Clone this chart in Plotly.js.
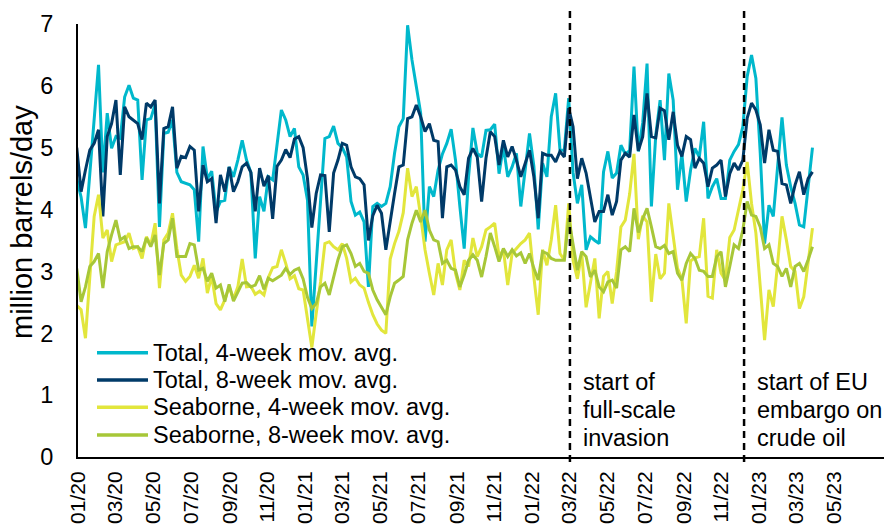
<!DOCTYPE html>
<html><head><meta charset="utf-8">
<script src="https://cdn.plot.ly/plotly-3.0.1.min.js"></script>
<style>html,body{margin:0;padding:0;background:#fff}#chart{width:884px;height:529px}</style>
</head><body><div id="chart"></div>
<script>
// Weekly observations, first week starting 2019-12-30
const firstWeek = '2019-12-30';
const weekCount = 170;

const seriesNames = ['Total, 4-week mov. avg.', 'Total, 8-week mov. avg.', 'Seaborne, 4-week mov. avg.', 'Seaborne, 8-week mov. avg.'];

// x-axis tick labels (every two months)
const tickDates = ['2020-01-01','2020-03-01','2020-05-01','2020-07-01','2020-09-01','2020-11-01',
  '2021-01-01','2021-03-01','2021-05-01','2021-07-01','2021-09-01','2021-11-01',
  '2022-01-01','2022-03-01','2022-05-01','2022-07-01','2022-09-01','2022-11-01',
  '2023-01-01','2023-03-01','2023-05-01'];
const tickLabels = ['01/20','03/20','05/20','07/20','09/20','11/20','01/21','03/21','05/21','07/21','09/21','11/21',
  '01/22','03/22','05/22','07/22','09/22','11/22','01/23','03/23','05/23'];

const total4 = [4.5,4.2,3.7,4.6,5.45,6.34,4.6,5.56,4.99,5.18,5.15,
5.82,6.01,5.8,5.77,4.48,5.45,5.47,5.7,3.72,5.23,
5.25,5.45,4.6,4.45,4.42,4.4,4.32,3.48,5.02,4.5,
4.62,3.96,4.13,4.15,4.69,4.53,4.8,5.12,4.8,4.6,
3.21,4.21,3.97,4.53,4.48,5.02,5.61,5.45,5.18,5.31,
4.69,4.56,4.15,2.11,3.18,4.15,5.15,5.18,5.35,5.07,
5.0,4.85,4.13,3.91,3.96,3.8,2.75,4.05,4.1,4.05,
4.1,4.37,4.91,5.34,5.47,6.98,6.42,5.99,5.56,3.48,
4.37,4.21,4.64,4.9,5.07,5.3,4.8,4.05,3.37,4.53,
5.32,4.91,4.85,5.28,5.29,5.38,4.58,5.02,4.53,4.69,
4.91,4.05,4.6,5.23,4.7,3.68,4.75,4.53,5.5,5.88,
4.96,4.96,5.8,4.6,4.1,4.4,3.35,3.56,3.5,3.45,
4.61,4.94,4.51,4.59,5.04,4.9,4.95,6.31,4.94,5.4,
6.36,4.05,5.2,5.77,4.8,6.2,5.77,4.32,4.9,4.13,
4.64,4.99,4.85,5.42,4.18,4.37,4.5,4.18,4.18,4.8,
4.94,5.05,5.34,6.15,6.5,6.12,4.91,3.45,4.07,3.89,
4.7,5.49,4.72,4.37,4.1,3.75,3.72,4.4,5.0];

const total8 = [5.0,4.29,4.64,4.96,5.07,5.29,3.89,5.18,5.39,5.77,4.56,
5.66,5.5,5.45,5.39,5.13,5.72,5.66,5.77,4.1,5.31,
5.34,5.66,4.67,4.86,4.84,5.02,4.96,3.97,4.72,4.45,
4.5,3.78,4.56,4.29,4.69,4.29,4.45,4.69,4.75,4.6,
3.97,4.67,4.38,4.55,3.85,4.7,4.8,4.97,4.84,5.14,
5.18,5.0,4.5,3.71,4.26,4.56,4.55,3.64,4.59,4.8,
5.07,5.04,4.69,4.53,4.5,4.4,3.5,3.9,4.07,3.94,
3.35,3.83,4.26,4.69,4.72,5.47,5.5,5.69,5.5,5.26,
5.39,5.12,5.1,3.86,4.69,4.72,4.64,4.37,4.24,4.83,
4.99,4.85,4.13,4.83,5.26,5.18,4.72,5.12,4.85,5.02,
4.8,4.53,4.75,4.96,4.53,3.86,4.91,4.88,4.88,4.77,
4.94,4.85,5.64,5.34,4.5,4.83,4.59,4.18,3.8,3.97,
3.97,4.24,3.91,4.13,4.8,4.91,4.85,5.53,4.95,5.18,
5.88,5.18,5.16,5.64,5.6,5.13,5.58,5.04,4.86,5.18,
5.13,4.67,4.83,4.75,4.37,4.67,4.72,4.8,4.21,4.58,
4.75,4.64,4.8,5.48,5.72,5.61,5.37,4.75,5.29,4.96,
4.94,4.42,4.4,4.1,4.4,4.61,4.24,4.5,4.61];

const seaborne4 = [2.45,2.38,1.92,2.97,3.89,4.24,3.54,3.67,3.16,3.43,3.45,
3.48,3.62,3.37,3.4,3.21,3.56,3.43,3.78,2.73,3.51,
3.62,3.94,3.37,2.94,2.84,2.92,3.1,2.89,3.21,2.65,
2.92,2.48,2.38,2.54,2.75,2.56,2.75,3.2,2.75,2.76,
2.63,2.68,2.62,2.9,3.06,3.08,3.35,3.13,2.88,2.93,
2.72,2.7,2.22,1.77,2.32,2.83,3.45,3.48,3.4,3.35,
3.45,3.21,2.83,2.89,2.78,2.73,2.5,2.3,2.15,2.05,
2.0,3.2,3.45,3.65,3.95,4.67,4.21,4.37,3.89,3.35,
2.97,2.62,3.13,2.78,3.35,3.51,2.97,2.7,3.18,3.08,
3.54,3.24,3.4,3.67,3.72,3.78,3.24,3.35,2.78,3.29,
3.37,3.45,3.51,3.62,2.91,2.3,3.35,3.1,3.51,4.07,
3.29,3.18,4.1,3.18,2.88,3.29,2.42,2.81,3.21,2.24,
2.92,3.0,2.48,3.0,3.72,3.83,4.25,4.9,3.52,3.9,
3.8,2.51,3.28,2.88,2.97,4.1,3.55,3.05,2.88,2.16,
3.17,3.22,3.24,3.86,2.6,2.57,3.35,2.97,2.86,3.55,
3.67,3.99,4.32,4.77,4.1,3.62,2.75,1.89,2.7,2.43,
3.13,3.89,3.51,3.08,3.0,2.4,2.59,3.13,3.7];

const seaborne8 = [3.05,2.51,2.75,3.08,3.16,3.29,2.73,3.32,3.59,3.83,3.51,
3.56,3.37,3.4,3.4,3.32,3.54,3.4,3.59,2.94,3.45,
3.51,3.86,3.24,3.24,3.24,3.45,3.43,3.02,3.05,2.84,
2.97,2.73,2.78,2.51,2.79,2.52,2.66,2.81,2.82,2.75,
2.78,2.93,2.71,2.89,2.85,2.9,2.94,3.05,2.95,3.02,
3.05,2.88,2.58,2.4,2.48,2.75,2.81,2.62,2.92,3.19,
3.4,3.43,3.29,3.08,3.13,3.0,2.97,2.7,2.54,2.43,
2.3,2.59,2.81,2.86,2.92,3.51,3.78,3.99,3.8,3.99,
3.67,3.51,3.48,3.13,3.18,3.05,3.02,2.75,2.94,3.18,
3.27,3.18,2.91,3.24,3.62,3.4,3.16,3.37,3.24,3.35,
3.25,3.3,3.13,3.29,3.05,2.86,3.32,3.29,3.21,3.18,
3.18,3.18,3.86,3.45,3.02,3.32,3.24,2.91,3.02,2.75,
2.67,2.83,2.86,2.73,3.35,3.4,3.32,4.02,3.63,3.85,
4.02,3.72,3.4,3.37,3.42,3.29,3.32,2.97,2.86,3.13,
3.29,3.21,3.02,3.0,2.92,2.92,3.24,3.32,2.75,3.08,
3.43,3.37,3.67,4.13,3.91,3.89,3.72,3.37,3.43,3.13,
3.08,2.92,3.05,2.75,3.08,3.13,3.0,3.19,3.4];

const eventDates = ['2022-03-02', '2022-12-07'];
const eventLabels = [['start of', 'full-scale', 'invasion'], ['start of EU', 'embargo on', 'crude oil']];
const yTitle = 'million barrels/day';

// ---- build weekly dates ----
function weekly(start, n) {
  const out = [];
  const d0 = new Date(start + 'T00:00:00Z');
  for (let i = 0; i < n; i++) {
    const d = new Date(d0.getTime() + i * 7 * 86400000);
    out.push(d.toISOString().slice(0, 10));
  }
  return out;
}
const weeks = weekly(firstWeek, weekCount);

const colors = ['#00B8CC', '#003A68', '#E2E63C', '#A7C738'];
const allSeries = [total4, total8, seaborne4, seaborne8];
const FONT = 'Liberation Sans, Arial, sans-serif';
const FS = 23.5;
const XFS = 21;
const TFS = 29;

const traces = allSeries.map((vals, i) => ({
  x: weeks, y: vals, type: 'scatter', mode: 'lines', name: seriesNames[i],
  line: {color: colors[i], width: 3}, showlegend: false, hoverinfo: 'skip'
}));

// geometry helpers (plot area 78..884 x 24..457 px)
const L = 78, R = 884, T = 24, B = 457;
const px2paperX = px => (px - L) / (R - L);
const px2paperY = py => (B - py) / (B - T);

const shapes = [];
const annotations = [];

eventDates.forEach(d => {
  shapes.push({type: 'line', xref: 'x', yref: 'paper', x0: d, x1: d,
    y0: px2paperY(462), y1: px2paperY(10), layer: 'above',
    line: {color: '#000', width: 2.5, dash: '7px,5px'}});
});

// legend (drawn manually to reproduce row spacing)
const legendRows = [352.7, 380, 407.3, 435];
seriesNames.forEach((nm, i) => {
  shapes.push({type: 'line', xref: 'paper', yref: 'paper',
    x0: px2paperX(97), x1: px2paperX(148), y0: px2paperY(legendRows[i]), y1: px2paperY(legendRows[i]),
    line: {color: colors[i], width: 3.5}});
  annotations.push({xref: 'paper', yref: 'paper', x: px2paperX(151), y: px2paperY(legendRows[i]),
    xanchor: 'left', yanchor: 'middle', showarrow: false, text: nm,
    font: {family: FONT, size: FS, color: '#000'}});
});

const eventTextX = [581, 755];
const eventRows = [382, 410, 438];
eventLabels.forEach((lines, k) => {
  lines.forEach((t, j) => {
    annotations.push({xref: 'paper', yref: 'paper', x: px2paperX(eventTextX[k]), y: px2paperY(eventRows[j]),
      xanchor: 'left', yanchor: 'middle', showarrow: false, text: t,
      font: {family: FONT, size: FS, color: '#000'}});
  });
});

// y-axis title (placed as rotated text to match the reference position)
annotations.push({xref: 'paper', yref: 'paper', x: px2paperX(22), y: px2paperY(222),
  xanchor: 'center', yanchor: 'middle', showarrow: false, textangle: -90, text: yTitle,
  font: {family: FONT, size: TFS, color: '#000'}});

const layout = {
  width: 884, height: 529,
  margin: {l: L, r: 0, t: T, b: 529 - B, pad: 0},
  paper_bgcolor: '#fff', plot_bgcolor: '#fff',
  font: {family: FONT, size: FS, color: '#000'},
  showlegend: false,
  xaxis: {
    type: 'date', range: ['2020-01-01', '2023-07-20'],
    tickmode: 'array', tickvals: tickDates, ticktext: tickLabels, tickangle: -90,
    showgrid: false, zeroline: false, showline: true, linecolor: '#000', linewidth: 2,
    ticks: '', ticklabelstandoff: 4, tickfont: {family: FONT, size: XFS, color: '#000'}
  },
  yaxis: {
    range: [0, 7], dtick: 1, tick0: 0,
    showgrid: false, zeroline: false, showline: true, linecolor: '#000', linewidth: 2,
    ticks: '', ticklabelstandoff: 18, tickfont: {family: FONT, size: FS, color: '#000'}
  },
  shapes: shapes,
  annotations: annotations
};

Plotly.newPlot('chart', traces, layout, {displayModeBar: false, staticPlot: true});
</script>
</body></html>
